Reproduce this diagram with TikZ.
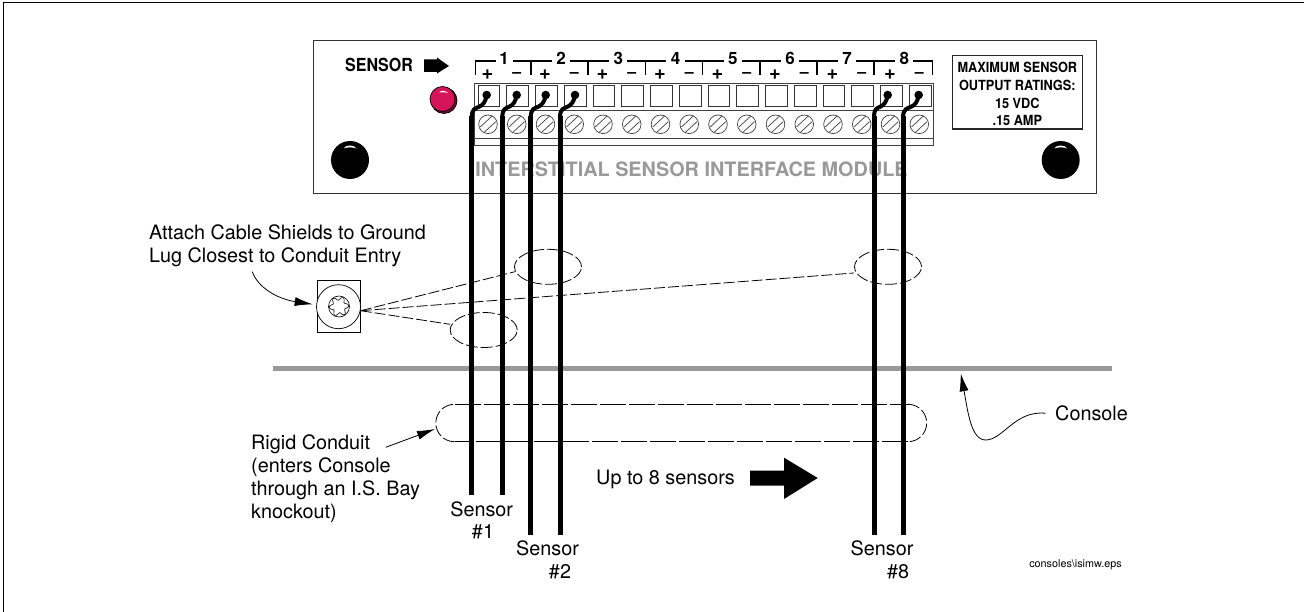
\documentclass[tikz,border=0pt]{standalone}
\usepackage{fontspec}
\setmainfont{TeX Gyre Heros}
\usetikzlibrary{arrows.meta,shapes.geometric}
\definecolor{bargray}{HTML}{999999}
\definecolor{ledred}{HTML}{D5145A}
\newcommand{\fsz}[1]{\fontsize{#1}{#1}\selectfont}
\newcommand{\narrow}[1]{\scalebox{0.91}[1]{#1}}
\tikzset{
  lab/.style={inner sep=0pt,anchor=base,font=\fsz{19.8}},
  labl/.style={lab,anchor=base west},
  blab/.style={inner sep=0pt,anchor=base,font=\bfseries\fsz{14}},
  digit/.style={inner sep=0pt,anchor=base,font=\bfseries\fsz{17}},
  plussign/.style={inner sep=0pt,anchor=base,font=\bfseries\fsz{20}},
  minussign/.style={inner sep=0pt,anchor=base,font=\bfseries\fsz{16}},
  wire/.style={line width=5pt,black},
  wiretop/.style={line width=4pt,black,line cap=round},
  leader/.style={line width=0.8pt,-{Latex[length=18pt,width=9pt]}},
  dashline/.style={line width=0.8pt,dash pattern=on 11pt off 3pt},
  dashloop/.style={ellipse,draw,line width=0.8pt,dash pattern=on 12pt off 3pt,minimum width=67pt,minimum height=35pt,inner sep=0pt},
  conduit/.style={line width=0.8pt,dash pattern=on 26pt off 3pt},
  conduitend/.style={line width=0.8pt,dash pattern=on 12pt off 3pt},
  knob/.style={circle,fill=black,minimum size=38pt,inner sep=0pt},
  screw/.style={line width=0.7pt,draw=black!75},
  termbox/.style={draw=black!80,line width=0.7pt},
  brack/.style={line width=1.5pt,black}
}
\begin{document}
\begin{tikzpicture}[x=1pt,y=-1pt]
\useasboundingbox (0,0) rectangle (1304,612);
% outer frame
\draw[line width=1.1pt] (3.3,612) -- (3.3,2.3) -- (1304,2.3);
% panel
\draw[line width=1pt,draw=black!80] (313.7,40.7) rectangle (1096,194);
\node[inner sep=0pt,anchor=base] (sensorlab) at (379,71.7) {\bfseries\fsz{18}\scalebox{0.89}[1]{SENSOR}};
\fill (424,59.5) -- (437,59.5) -- (437,57.5) -- (449,66) -- (437,73.5) -- (437,72) -- (424,72) -- cycle;
% terminal strip
\draw[line width=0.7pt,draw=black!75] (474.5,83) -- (933,83) -- (933,145) -- (474.5,145) -- cycle;
\draw[line width=0.7pt,draw=black!75] (474.5,110.7) -- (933,110.7);
\draw[line width=0.7pt,draw=black!75] (474.5,138.7) -- (933,138.7);
\foreach \i in {0,...,15}{
  \pgfmathsetmacro{\bx}{478+28.75*\i}
  \draw[termbox] (\bx,85) rectangle ++(21.7,21);
  \pgfmathsetmacro{\sx}{488+28.75*\i}
  \draw[screw] (\sx,124.3) circle[radius=9.3];
  \draw[screw] (\sx-7.7,126.9) -- (\sx+4.2,115.9);
  \draw[screw] (\sx-4.2,132.7) -- (\sx+7.7,121.7);
}
% numbers, signs and brackets
\draw[brack] (475.5,75) -- (475.5,61) -- (496,61);
\foreach \i in {1,...,8}{
  \pgfmathsetmacro{\dx}{504+57.2*(\i-1)}
  \node[digit] (num\i) at (\dx,64.7) {\i};
  \pgfmathsetmacro{\px}{487.5+57.5*(\i-1)}
  \node[plussign] (plus\i) at (\px,79.3) {+};
  \pgfmathsetmacro{\mx}{516.8+57.5*(\i-1)}
  \node[minussign] (minus\i) at (\mx,77.3) {–};
}
\foreach \i in {1,...,7}{
  \pgfmathsetmacro{\dx}{504+57.2*(\i-1)}
  \draw[brack] (\dx+9,61) -- (\dx+48,61);
  \draw[brack] (\dx+27,61) -- (\dx+27,75);
}
\draw[brack] (913,61) -- (932.3,61) -- (932.3,75);
% ratings
\draw[line width=1.1pt,draw=black!85] (952.5,55.7) rectangle (1082.3,129);
\node[blab] (r1) at (1017.3,72.7) {\narrow{MAXIMUM SENSOR}};
\node[blab] (r2) at (1017.3,90.2) {\narrow{OUTPUT RATINGS:}};
\node[blab] (r3) at (1017.3,108.2) {\narrow{15 VDC}};
\node[blab] (r4) at (1017.3,125.7) {\narrow{.15 AMP}};
% LED
\draw[fill=ledred!55!black,line width=0.7pt] (444,100.5) circle[radius=13];
\draw[fill=ledred,line width=0.7pt] (442.5,99) circle[radius=12.5];
\fill[white] (439,92.5) .. controls (441,90) and (445,90.5) .. (448,93) .. controls (445,92) and (442,92) .. (439,92.5) -- cycle;
% knobs
\node[knob] (knobl) at (350,160) {};
\node[knob] (knobr) at (1060.7,160) {};
\foreach \k in {350,1060.7}{
  \fill[white] (\k-6.5,148.5) .. controls (\k-4,144.5) and (\k+4,144.5) .. (\k+6.5,148.5) .. controls (\k+3,147) and (\k-3,147) .. (\k-6.5,148.5) -- cycle;
}
% module title
\node[inner sep=0pt,anchor=base,text=bargray] (title) at (691.5,176.7) {\bfseries\fsz{19.85}INTERSTITIAL SENSOR INTERFACE MODULE};
% ground lug
\draw[line width=0.7pt] (317.7,280.7) rectangle (360,332.3);
\node[circle,draw,line width=0.7pt,fill=white,minimum size=44pt,inner sep=0pt] (lug) at (338.5,306.7) {};
\draw[line width=0.6pt] (339,306.5) circle[radius=10.5];
\draw[line width=0.6pt] plot[domain=0:354,samples=60,smooth cycle] ({339+(8+1.8*cos(6*\x+30))*cos(\x)},{306.5+(8+1.8*cos(6*\x+30))*sin(\x)});
\coordinate (lugpt) at (360.7,310.7);
\coordinate (lugtip) at (312.7,304.3);
% dashed loops
\node[dashloop] (ell1) at (548,266.8) {};
\node[dashloop] (ell2) at (483.7,330) {};
\node[dashloop] (ell3) at (888,266.8) {};
\coordinate (e1) at (515,271.7);
\coordinate (e2) at (450,324.3);
\coordinate (e3) at (854,273);
\draw[dashline] (lugpt) -- (e1);
\draw[dashline] (lugpt) -- (e2);
\draw[dashline] (lugpt) -- (e3);
% console bar
\fill[bargray] (273,365.5) rectangle (1111.7,371.2);
% conduit
\draw[conduit] (454.5,404.3) -- (908,404.3);
\draw[conduit] (908,441.7) -- (454.5,441.7);
\draw[conduitend] (908,404.3) arc[start angle=-90,end angle=90,radius=18.7];
\draw[conduitend] (454.5,441.7) arc[start angle=90,end angle=270,radius=18.7];
% wires
\foreach \dx/\wx/\wy in {486.7/471.7/494.7,516.7/502.3/494.7,545.7/530.7/534.7,575/560/534.7,887.7/874/534.7,918.7/903/534.7}{
  \fill (\dx,95) circle[radius=4.3];
  \draw[wiretop] (\dx,95) .. controls (\dx-1,102) and (\dx-4,105) .. (\dx-7,106.5) .. controls (\dx-11,108.5) and (\wx,108) .. (\wx,118);
  \draw[wire] (\wx,116) -- (\wx,\wy);
}
% labels
\node[labl] (attach1) at (149,239.3) {Attach Cable Shields to Ground};
\node[labl] (attach2) at (149,262.3) {Lug Closest to Conduit Entry};
\coordinate (attachend) at (252.3,271.7);
\draw[leader] (attachend) .. controls (258,288) and (278,299) .. (lugtip);
\node[labl] (rigid1) at (251,449.3) {Rigid Conduit};
\node[labl] (rigid2) at (251,472.2) {(enters Console};
\node[labl] (rigid3) at (251,495) {through an I.S. Bay};
\node[labl] (rigid4) at (251,518) {knockout)};
\coordinate (rigidend) at (385.7,447.3);
\coordinate (rigidtip) at (435,429);
\draw[leader] (rigidend) -- (rigidtip);
\node[lab] (s1a) at (481.7,516) {Sensor};
\node[lab] (s1b) at (483,538.7) {\#1};
\node[lab] (s2a) at (547.5,555.3) {Sensor};
\node[lab] (s2b) at (560,578.5) {\#2};
\node[lab] (s8a) at (882,555.3) {Sensor};
\node[lab] (s8b) at (898,578.5) {\#8};
\node[labl] (upto) at (596,484) {Up to 8 sensors};
\fill (750,470.7) -- (784,470.7) -- (784,457.7) -- (817.7,478) -- (784,499) -- (784,485.7) -- (750,485.7) -- cycle;
\node[labl] (console) at (1055,420) {Console};
\coordinate (conend) at (1045.7,413.3);
\coordinate (contip) at (960.7,373.3);
\draw[leader] (conend) .. controls (1015,410) and (1003,440) .. (985.7,440) .. controls (971,440) and (968,412) .. (contip);
\node[inner sep=0pt,anchor=base] (eps) at (1075.5,567) {\fsz{10.8}consoles\textbackslash isimw.eps};
\end{tikzpicture}
\end{document}
